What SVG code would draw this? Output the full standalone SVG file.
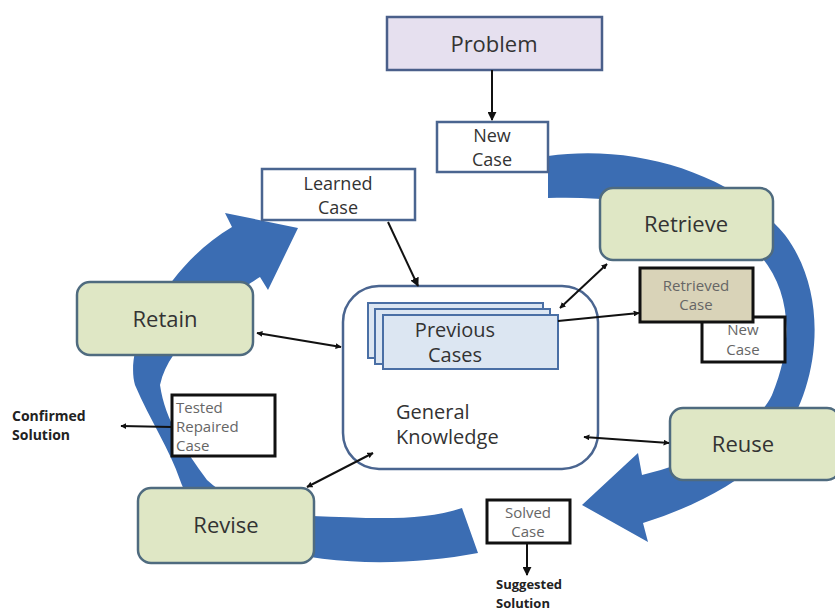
<svg xmlns="http://www.w3.org/2000/svg" width="835" height="612" viewBox="0 0 835 612">
<defs>
<marker id="ah" viewBox="0 0 10 10" refX="9" refY="5" markerWidth="6" markerHeight="6" orient="auto-start-reverse" markerUnits="userSpaceOnUse">
<path d="M0,0 L10,5 L0,10 Z" fill="#111"/>
</marker>
<marker id="ahb" viewBox="0 0 10 10" refX="9" refY="5" markerWidth="9" markerHeight="9" orient="auto-start-reverse" markerUnits="userSpaceOnUse">
<path d="M0,0 L10,5 L0,10 Z" fill="#111"/>
</marker>
<style>
.t{font-family:"Open Sans","Noto Sans",sans-serif;fill:#333;}
.big{font-size:22px;text-anchor:middle;}
.mid{font-size:18px;text-anchor:middle;}
.sm{font-size:15px;fill:#666;}
.bold{font-family:"Open Sans","Noto Sans",sans-serif;font-weight:bold;font-size:14px;fill:#222;}
.bold2{font-family:"Open Sans","Noto Sans",sans-serif;font-weight:bold;font-size:13px;fill:#222;}
.green{fill:#dfe7c5;stroke:#4f6b7f;stroke-width:2.5;}
.wbox{fill:#fff;stroke:#4a6590;stroke-width:2.5;}
.kbox{fill:#fff;stroke:#111;stroke-width:3;}
.arc{fill:#3b6db3;}
.c{stroke:#111;stroke-width:2;fill:none;}
</style>
</defs>
<rect width="835" height="612" fill="#fff"/>

<g id="arcs">
<path class="arc" d="M548,156 C630,144 730,170 785,235 C830,295 820,385 780,440 C750,478 700,505 643,523 L648,542 L582,505 L638,453 L642,475 C700,462 755,430 772,395 C795,340 790,290 760,255 C720,215 640,195 548,198 Z"/>
<path class="arc" d="M478,553 C410,566 330,566 270,548 C220,532 190,510 180,480 C170,450 150,420 135,385 C128,360 140,320 173,280 C190,258 210,240 232,227 L225,213 L298,228 L268,290 L260,277 C252,282 249,284 247,286 C215,320 170,340 160,385 C165,420 185,450 207,480 C240,510 280,517 312,516 C370,518 420,522 462,508 Z"/>
</g>

<g id="problem">
<rect x="387" y="17" width="215" height="53" fill="#e6e0ef" stroke="#4a5f8a" stroke-width="2.5"/>
<text class="t big" x="494" y="52">Problem</text>
</g>

<g id="newcase">
<rect class="wbox" x="437" y="122" width="111" height="50"/>
<text class="t mid" x="492" y="142">New</text>
<text class="t mid" x="492" y="166">Case</text>
</g>

<g id="learnedcase">
<rect class="wbox" x="262" y="169" width="153" height="51"/>
<text class="t mid" x="338" y="190">Learned</text>
<text class="t mid" x="338" y="214">Case</text>
</g>

<g id="retrieve">
<rect class="green" x="600" y="188" width="173" height="72" rx="13"/>
<text class="t big" x="686" y="232">Retrieve</text>
</g>

<g id="newcase2">
<rect class="kbox" x="702" y="317" width="83" height="45"/>
<text class="t sm" x="743" y="335" text-anchor="middle">New</text>
<text class="t sm" x="743" y="355" text-anchor="middle">Case</text>
</g>

<g id="retrievedcase">
<rect x="640" y="268" width="113" height="54" fill="#d9d3b8" stroke="#111" stroke-width="3"/>
<text class="t sm" x="696" y="291" text-anchor="middle">Retrieved</text>
<text class="t sm" x="696" y="310" text-anchor="middle">Case</text>
</g>

<g id="generalknowledge">
<rect class="wbox" x="343" y="286" width="255" height="183" rx="36"/>
<text class="t" x="396" y="419" font-size="20">General</text>
<text class="t" x="396" y="444" font-size="20">Knowledge</text>
</g>

<g id="previouscases">
<rect x="368" y="303" width="175" height="55" fill="#dce6f2" stroke="#4a6fa5" stroke-width="2"/>
<rect x="375" y="309" width="175" height="55" fill="#dce6f2" stroke="#4a6fa5" stroke-width="2"/>
<rect x="383" y="315" width="175" height="54" fill="#dce6f2" stroke="#4a6fa5" stroke-width="2"/>
<text class="t" x="455" y="337" font-size="20" text-anchor="middle">Previous</text>
<text class="t" x="455" y="362" font-size="20" text-anchor="middle">Cases</text>
</g>

<g id="retain">
<rect class="green" x="77" y="282" width="176" height="73" rx="13"/>
<text class="t big" x="165" y="327">Retain</text>
</g>

<g id="reuse">
<rect class="green" x="670" y="408" width="170" height="72" rx="13"/>
<text class="t big" x="743" y="452">Reuse</text>
</g>

<g id="revise">
<rect class="green" x="138" y="488" width="176" height="75" rx="13"/>
<text class="t big" x="226" y="533">Revise</text>
</g>

<g id="testedcase">
<rect class="kbox" x="172" y="395" width="103" height="61"/>
<text class="t sm" x="176" y="413">Tested</text>
<text class="t sm" x="176" y="432">Repaired</text>
<text class="t sm" x="176" y="451">Case</text>
</g>

<g id="solvedcase">
<rect class="kbox" x="487" y="500" width="83" height="43"/>
<text class="t sm" x="528" y="518" text-anchor="middle">Solved</text>
<text class="t sm" x="528" y="537" text-anchor="middle">Case</text>
</g>

<g id="confirmed">
<text class="bold" x="12" y="421">Confirmed</text>
<text class="bold" x="12" y="440">Solution</text>
</g>

<g id="suggested">
<text class="bold2" x="496" y="589">Suggested</text>
<text class="bold2" x="496" y="607.5">Solution</text>
</g>

<g id="connectors">
<line class="c" x1="492" y1="70" x2="492" y2="120" marker-end="url(#ahb)"/>
<line class="c" x1="388" y1="222" x2="418" y2="286" marker-end="url(#ahb)"/>
<line class="c" x1="560" y1="308" x2="607" y2="264" marker-start="url(#ah)" marker-end="url(#ah)"/>
<line class="c" x1="558" y1="321" x2="639" y2="313" marker-end="url(#ah)"/>
<line class="c" x1="257" y1="333" x2="341" y2="347" marker-start="url(#ah)" marker-end="url(#ah)"/>
<line class="c" x1="584" y1="437" x2="669" y2="443" marker-start="url(#ah)" marker-end="url(#ah)"/>
<line class="c" x1="307" y1="487" x2="373" y2="453" marker-start="url(#ah)" marker-end="url(#ah)"/>
<line class="c" x1="172" y1="427" x2="121" y2="426" marker-end="url(#ah)"/>
<line class="c" x1="527" y1="543" x2="527" y2="575" marker-end="url(#ahb)"/>
</g>
</svg>
